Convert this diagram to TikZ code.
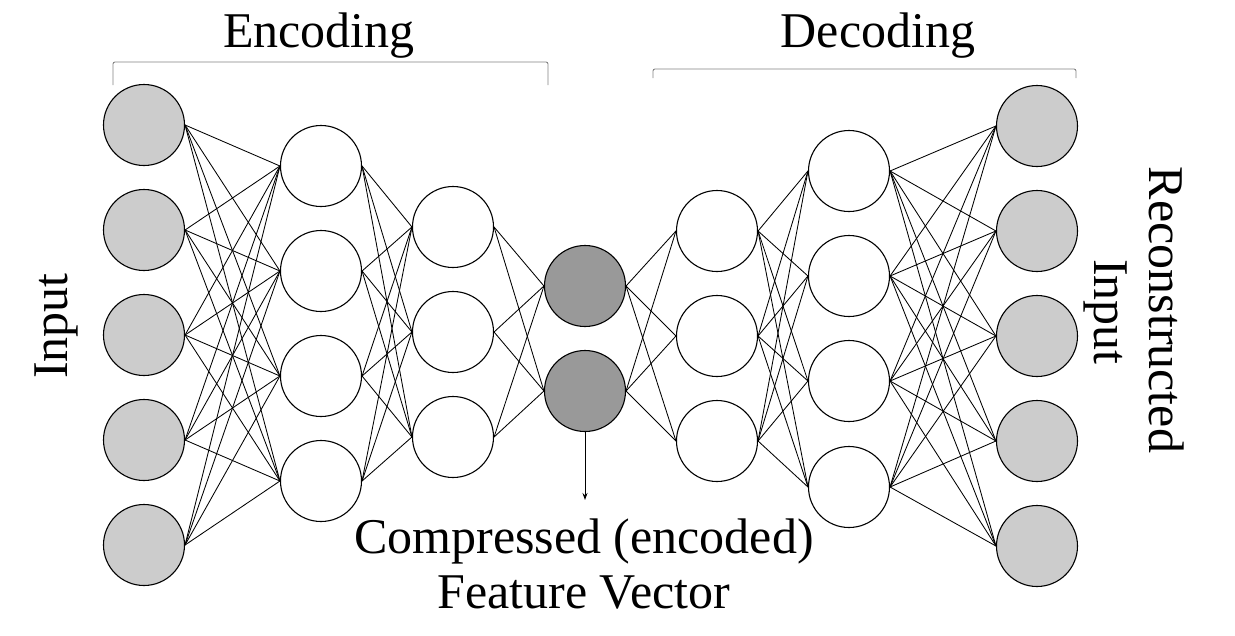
\documentclass[tikz,border=0pt]{standalone}
\usepackage{fontspec}
\setmainfont{Liberation Serif}
\usetikzlibrary{arrows.meta}
\begin{document}
\begin{tikzpicture}[x=1pt,y=-1pt,
  neuron/.style={circle,draw=black,line width=1.1pt,minimum size=81pt,inner sep=0pt},
  inneuron/.style={neuron,fill=lightgr},
  hidneuron/.style={neuron,fill=white},
  codeneuron/.style={neuron,fill=darkgr},
  conn/.style={draw=black,line width=0.85pt},
  bracketline/.style={draw=bracketgr,line width=0.9pt},
  bigtext/.style={font=\fontsize{50}{56}\selectfont,inner sep=0pt,align=center}]
\definecolor{lightgr}{RGB}{204,204,204}
\definecolor{darkgr}{RGB}{153,153,153}
\definecolor{bracketgr}{RGB}{130,130,130}
\useasboundingbox (0,0) rectangle (1235,635);
% layer 1
\foreach \i/\y in {1/125,2/230,3/335,4/440,5/545} \node[inneuron] (a\i) at (144,\y) {};
% layer 2
\foreach \i/\y in {1/166,2/271,3/376,4/481} \node[hidneuron] (b\i) at (321,\y) {};
% layer 3
\foreach \i/\y in {1/227,2/332,3/437} \node[hidneuron] (c\i) at (453,\y) {};
% layer 4 (code)
\foreach \i/\y in {1/286,2/391} \node[codeneuron] (d\i) at (585,\y) {};
% layer 5
\foreach \i/\y in {1/231,2/336,3/441} \node[hidneuron] (e\i) at (717,\y) {};
% layer 6
\foreach \i/\y in {1/171,2/276,3/381,4/487} \node[hidneuron] (f\i) at (849,\y) {};
% layer 7
\foreach \i/\y in {1/126,2/231,3/336,4/441,5/546} \node[inneuron] (g\i) at (1037,\y) {};
% connections
\foreach \i in {1,...,5} \foreach \j in {1,...,4} \draw[conn] (a\i.east) -- (b\j.west);
\foreach \i in {1,...,4} \foreach \j in {1,...,3} \draw[conn] (b\i.east) -- (c\j.west);
\foreach \i in {1,...,3} \foreach \j in {1,2} \draw[conn] (c\i.east) -- (d\j.west);
\foreach \i in {1,2} \foreach \j in {1,...,3} \draw[conn] (d\i.east) -- (e\j.west);
\foreach \i in {1,...,3} \foreach \j in {1,...,4} \draw[conn] (e\i.east) -- (f\j.west);
\foreach \i in {1,...,4} \foreach \j in {1,...,5} \draw[conn] (f\i.east) -- (g\j.west);
% brackets
\draw[bracketline,rounded corners=2pt] (113,85) -- (113,62) -- (548,62) -- (548,85);
\draw[bracketline,rounded corners=2pt] (653,78) -- (653,69) -- (1076,69) -- (1076,78);
% titles
\node[bigtext,anchor=base] (enc) at (319,47) {Encoding};
\node[bigtext,anchor=base] (dec) at (878,47) {Decoding};
% side labels
\node[bigtext,rotate=90,anchor=base] (inp) at (67,326) {Input};
\node[bigtext,rotate=-90,anchor=base] (rec) at (1149,310) {Reconstructed};
\node[bigtext,rotate=-90,anchor=base] (rec2) at (1094,312) {Input};
% code label
\coordinate (arrowend) at (585,500);
\draw[line width=0.9pt,-{Stealth[length=7pt,width=5pt]}] (d2.south) -- (arrowend);
\node[bigtext,anchor=base] (cmp1) at (584,553) {Compressed (encoded)};
\node[bigtext,anchor=base] (cmp2) at (584,608) {Feature Vector};
\end{tikzpicture}
\end{document}
